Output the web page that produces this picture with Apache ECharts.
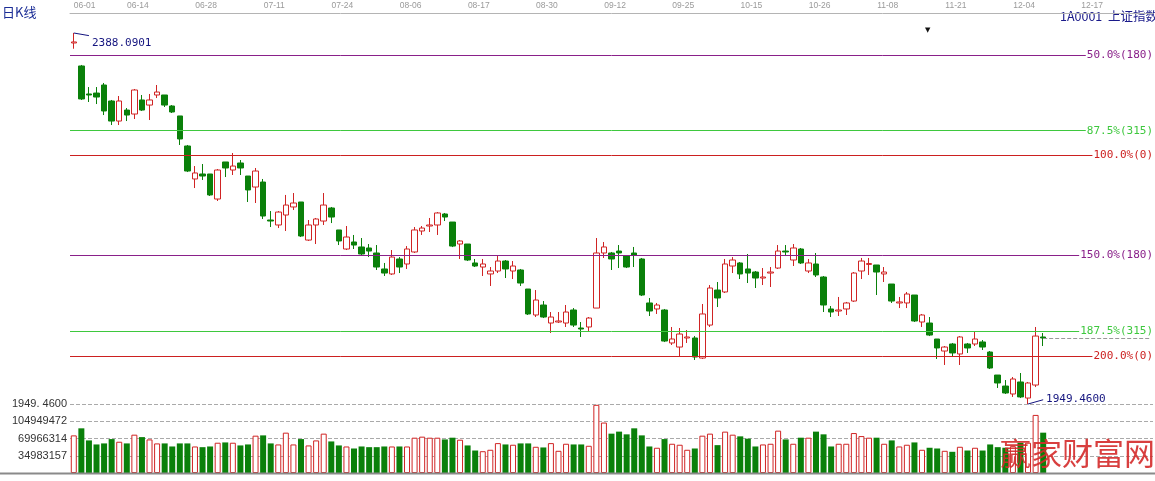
<!DOCTYPE html>
<html>
<head>
<meta charset="utf-8">
<script src="https://cdn.jsdelivr.net/npm/echarts@6/dist/echarts.min.js"></script>
<style>
html,body{margin:0;padding:0;background:#fff;}
#chart{width:1155px;height:481px;}
</style>
</head>
<body>
<div id="chart"></div>
<script>
// ---- data ----
const dates = ['06-01','06-04','06-05','06-06','06-07','06-08','06-11','06-12','06-13','06-14','06-15','06-18','06-19','06-20','06-21','06-25','06-26','06-27','06-28','06-29',
'07-02','07-03','07-04','07-05','07-06','07-09','07-10','07-11','07-12','07-13','07-16','07-17','07-18','07-19','07-20','07-23','07-24','07-25','07-26','07-27','07-30','07-31',
'08-01','08-02','08-03','08-06','08-07','08-08','08-09','08-10','08-13','08-14','08-15','08-16','08-17','08-20','08-21','08-22','08-23','08-24','08-27','08-28','08-29','08-30','08-31',
'09-03','09-04','09-05','09-06','09-07','09-10','09-11','09-12','09-13','09-14','09-17','09-18','09-19','09-20','09-21','09-24','09-25','09-26','09-27','09-28',
'10-08','10-09','10-10','10-11','10-12','10-15','10-16','10-17','10-18','10-19','10-22','10-23','10-24','10-25','10-26','10-29','10-30','10-31',
'11-01','11-02','11-05','11-06','11-07','11-08','11-09','11-12','11-13','11-14','11-15','11-16','11-19','11-20','11-21','11-22','11-23','11-26','11-27','11-28','11-29','11-30',
'12-03','12-04','12-05','12-06','12-07','12-10','12-11','12-12','12-13','12-14','12-17','12-18','12-19','12-20','12-21','12-24','12-25','12-26'];

const opens = [2376.3,2349.1,2316.0,2317.1,2326.6,2307.7,2284.0,2297.0,2292.3,2308.9,
2302.9,2314.8,2314.8,2301.8,2290.0,2254.5,2215.5,2221.4,2221.4,2191.8,
2235.6,2226.1,2234.4,2219.0,2206.0,2211.9,2167.0,2161.1,2172.9,2182.4,
2188.3,2143.3,2161.1,2165.8,2181.2,2155.2,2132.7,2141.0,2135.1,2133.9,
2128.0,2109.1,2103.2,2120.9,2115.0,2129.2,2154.0,2159.9,2161.1,2174.1,
2164.6,2138.6,2138.6,2116.2,2111.4,2103.2,2106.7,2118.5,2106.7,2107.9,
2085.4,2054.7,2066.5,2045.2,2046.4,2045.2,2060.6,2039.3,2040.5,2062.9,
2128.0,2128.0,2130.3,2124.4,2128.0,2120.9,2068.9,2061.8,2060.6,2021.6,
2016.8,2027.5,2027.5,2003.8,2042.8,2084.2,2081.9,2112.6,2116.2,2109.1,
2105.5,2098.4,2104.3,2110.2,2130.3,2119.7,2132.7,2106.7,2115.0,2099.6,
2061.8,2059.4,2061.8,2071.2,2106.7,2114.5,2113.8,2103.2,2091.3,2068.9,
2068.9,2078.3,2046.4,2045.2,2026.3,2012.1,2020.4,2008.6,2020.4,2020.4,
2022.8,2010.9,1983.7,1970.7,1961.3,1975.5,1956.5,1971.9,2028.7];

const closes = [2377.5,2310.1,2314.8,2312.4,2295.9,2284.0,2307.7,2291.1,2320.7,2297.0,
2308.9,2318.3,2302.9,2294.7,2262.8,2224.9,2222.6,2219.0,2196.6,2226.1,
2228.5,2230.8,2228.5,2202.5,2224.9,2171.7,2165.8,2176.4,2184.7,2187.1,
2148.1,2161.1,2168.2,2184.7,2170.5,2142.2,2146.9,2137.4,2126.8,2130.3,
2111.4,2104.3,2123.2,2111.4,2132.7,2155.2,2157.5,2161.1,2175.3,2170.5,
2136.2,2142.2,2119.7,2112.6,2115.0,2106.7,2118.5,2109.1,2112.6,2092.5,
2055.9,2072.4,2052.3,2052.3,2047.6,2058.2,2042.8,2038.1,2051.1,2128.0,
2135.1,2120.9,2128.0,2111.4,2125.6,2078.3,2059.4,2066.5,2023.9,2026.3,
2032.2,2028.7,2005.0,2055.9,2086.6,2074.8,2115.0,2119.7,2103.2,2104.3,
2098.4,2099.6,2105.5,2130.3,2129.2,2133.9,2116.2,2116.2,2102.0,2066.5,
2058.2,2060.6,2068.9,2104.3,2118.5,2115.5,2105.5,2105.5,2071.2,2070.1,
2079.5,2047.6,2054.7,2031.0,2015.7,2016.8,2009.8,2028.7,2015.7,2026.3,
2016.8,1992.0,1974.3,1962.5,1979.0,1957.8,1974.3,2029.8,2027.5];

const lows = [2369.5,2308.9,2306.5,2304.1,2291.1,2279.3,2279.3,2284.0,2286.4,2295.9,
2285.2,2311.2,2300.6,2293.5,2255.7,2223.7,2204.8,2214.3,2195.4,2189.5,
2217.8,2220.2,2220.2,2188.3,2187.1,2168.2,2158.7,2157.5,2154.0,2178.8,
2146.9,2142.2,2138.6,2161.1,2163.4,2137.4,2131.5,2132.7,2125.6,2123.2,
2107.9,2100.8,2102.0,2104.3,2109.1,2128.0,2149.3,2152.8,2149.3,2165.8,
2135.0,2120.9,2118.5,2111.4,2100.8,2089.0,2104.3,2098.4,2097.2,2089.0,
2054.7,2052.3,2051.1,2033.4,2045.2,2040.5,2040.5,2028.7,2035.7,2062.9,
2122.1,2107.9,2110.2,2110.2,2111.4,2077.1,2053.5,2055.9,2022.7,2019.2,
2006.2,2021.6,2001.5,2002.7,2040.5,2064.1,2080.7,2104.3,2097.2,2092.5,
2086.6,2090.1,2087.8,2109.1,2124.4,2112.6,2115.0,2104.3,2099.6,2058.2,
2052.3,2053.5,2054.7,2070.1,2097.2,2102.0,2078.3,2093.7,2068.9,2062.9,
2062.9,2046.4,2040.5,2029.8,2002.7,1995.6,2005.0,1995.6,2009.8,2018.0,
2013.3,1990.8,1968.4,1961.3,1957.8,1956.5,1949.46,1969.5,2018.0];

const highs = [2388.09,2350.3,2324.2,2324.2,2329.0,2308.9,2313.6,2299.4,2321.9,2314.8,
2316.0,2326.6,2314.8,2302.9,2290.0,2255.7,2230.8,2233.2,2221.4,2227.3,
2235.6,2246.2,2237.9,2219.0,2228.5,2215.5,2177.6,2177.6,2196.6,2198.9,
2188.3,2167.0,2169.4,2198.9,2182.4,2155.2,2159.9,2149.3,2145.7,2138.6,
2137.4,2116.2,2131.5,2123.2,2136.2,2158.7,2159.9,2169.4,2176.4,2175.3,
2164.6,2143.3,2138.6,2120.9,2120.9,2111.4,2124.4,2119.7,2118.5,2109.1,
2085.4,2084.2,2071.2,2058.2,2058.2,2066.5,2062.9,2046.4,2052.3,2145.7,
2141.0,2129.2,2137.4,2125.6,2135.1,2122.1,2074.8,2068.9,2061.8,2040.5,
2039.3,2036.9,2029.8,2067.7,2090.1,2093.7,2120.9,2123.2,2117.3,2126.8,
2106.7,2110.2,2111.4,2137.4,2137.4,2138.6,2133.9,2120.9,2128.0,2100.8,
2065.3,2076.0,2070.1,2105.5,2122.1,2122.1,2113.8,2111.4,2091.3,2076.0,
2081.9,2078.3,2055.9,2052.3,2026.3,2018.0,2021.6,2029.8,2021.6,2034.6,
2025.1,2012.1,1983.7,1977.8,1981.4,1986.1,1975.5,2040.5,2033.4];

const volumes = [76300000,90600000,66100000,57900000,60000000,68800000,63400000,60000000,77700000,72800000,
68100000,60000000,60000000,53800000,60000000,60000000,53800000,52400000,53800000,61400000,
62000000,61400000,55900000,57900000,75700000,76300000,60000000,57900000,81800000,57900000,
68800000,55900000,66100000,79800000,64000000,55900000,53800000,49700000,53800000,52400000,
52400000,53800000,53800000,53800000,53800000,71600000,73700000,71600000,71600000,68100000,
71600000,67500000,55900000,45600000,44200000,47100000,60600000,57900000,57300000,60000000,
60000000,53200000,51800000,60600000,45000000,59300000,57900000,57900000,55200000,138300000,
102300000,79800000,83900000,78400000,90600000,76300000,53800000,51200000,68800000,59300000,
57300000,47100000,49700000,75700000,79800000,56500000,83900000,77700000,74300000,69600000,
53800000,57900000,59300000,85900000,68100000,59300000,71600000,71600000,83900000,78400000,
53800000,59300000,59300000,81000000,74900000,71600000,71600000,59300000,66100000,53800000,
57300000,62000000,47100000,51200000,49700000,45000000,43000000,53200000,45600000,51200000,
45600000,57900000,52400000,51200000,54400000,61400000,61400000,117800000,81800000];

const fibLevels = [2362.1, 2272.6, 2243.8, 2125.3, 2035.8, 2005.6];
const fibLabels = ['50.0%(180)', '87.5%(315)', '100.0%(0)', '150.0%(180)', '187.5%(315)', '200.0%(0)'];
const highValue = 2388.09;
const highText = '2388.0901';
const lowValue = 1949.46;
const lowText = '1949.4600';
const lowAxisText = '1949. 4600';
const volTickStep = 34983157;
const volTickLabels = ['34983157', '69966314', '104949472'];

// ---- styles ----
const RED = '#d02424';
const GREEN = '#0a800a';
const NAVY = '#14147f';
const fibColors = ['#8a208a', '#3ec83e', '#cc2020', '#8a208a', '#3ec83e', '#cc2020'];
const MONO = '"DejaVu Sans Mono", monospace';

const candleData = opens.map((o, i) => [o, closes[i], lows[i], highs[i]]);
const volData = volumes.map((v, i) => {
  const up = closes[i] >= opens[i];
  return {
    value: v,
    itemStyle: up ? {color: '#fff', borderColor: RED, borderWidth: 1} : {color: GREEN, borderColor: GREEN, borderWidth: 0}
  };
});
const lastIdx = closes.length - 1;

const markLines = [];
fibLevels.forEach((v, i) => {
  markLines.push({
    yAxis: v,
    lineStyle: {color: fibColors[i], width: 1, type: 'solid'},
    label: {
      show: true, position: 'insideEnd', distance: 0, formatter: fibLabels[i],
      color: fibColors[i], fontFamily: MONO, fontSize: 11,
      backgroundColor: '#fff', padding: [1, 0, 1, 1]
    }
  });
});
markLines.push({
  yAxis: lowValue,
  lineStyle: {color: '#aaa', width: 1, type: [4, 2]},
  label: {show: true, position: 'start', distance: 3, formatter: lowAxisText, color: '#333',
    fontFamily: '"Liberation Sans", Arial, sans-serif', fontSize: 11}
});
markLines.push([
  {coord: [0, highValue], lineStyle: {color: NAVY, width: 1, type: 'solid'},
   label: {show: true, position: 'end', distance: 3, formatter: '\n' + highText, color: NAVY,
           fontFamily: MONO, fontSize: 11, lineHeight: 14}},
  {coord: [2, 2385.0]}
]);
markLines.push([
  {coord: [126, lowValue], lineStyle: {color: NAVY, width: 1, type: 'solid'},
   label: {show: true, position: 'end', distance: 3, formatter: lowText, color: NAVY,
           fontFamily: MONO, fontSize: 11}},
  {coord: [128, 1954.5]}
]);
markLines.push([
  {coord: [lastIdx, closes[lastIdx]], lineStyle: {color: '#999', width: 1, type: [4, 2]}, label: {show: false}},
  {coord: [dates.length - 1, closes[lastIdx]]}
]);

const chart = echarts.init(document.getElementById('chart'), null, {renderer: 'canvas'});
chart.setOption({
  animation: false,
  backgroundColor: '#fff',
  textStyle: {fontFamily: '"Liberation Sans", Arial, sans-serif'},
  grid: [
    {left: 70, right: 2, top: 13, height: 391, outerBoundsMode: 'none', containLabel: false},
    {left: 70, right: 2, top: 404, bottom: 8, outerBoundsMode: 'none', containLabel: false}
  ],
  xAxis: [
    {
      type: 'category', gridIndex: 0, data: dates, position: 'top', boundaryGap: true,
      axisLine: {show: true, lineStyle: {color: '#b4b4b4', width: 1}},
      axisTick: {show: false},
      splitLine: {show: false},
      axisLabel: {interval: 8, color: '#9a9a9a', fontSize: 8.5, margin: 3, padding: [0, 8, 0, 0],
                  alignMinLabel: 'left', hideOverlap: false}
    },
    {
      type: 'category', gridIndex: 1, data: dates, boundaryGap: true,
      axisLine: {show: false}, axisTick: {show: false}, axisLabel: {show: false}, splitLine: {show: false}
    }
  ],
  yAxis: [
    {
      type: 'value', gridIndex: 0, min: 1949.46, max: 2411.74, scale: true,
      axisLine: {show: false}, axisTick: {show: false}, axisLabel: {show: false}, splitLine: {show: false}
    },
    {
      type: 'value', gridIndex: 1, min: 0, max: volTickStep * 4, interval: volTickStep,
      axisLine: {show: false}, axisTick: {show: false},
      axisLabel: {
        show: true, margin: 3, color: '#333', fontSize: 11,
        formatter: function (v) {
          const k = Math.round(v / volTickStep);
          return (k >= 1 && k <= 3) ? volTickLabels[k - 1] : '';
        }
      },
      splitLine: {show: true, lineStyle: {color: '#aaa', width: 1, type: [4, 2]}}
    }
  ],
  series: [
    {
      type: 'candlestick', xAxisIndex: 0, yAxisIndex: 0, data: candleData, barWidth: 6,
      itemStyle: {color: '#fff', color0: GREEN, borderColor: RED, borderColor0: GREEN, borderWidth: 1, borderColorDoji: RED},
      markLine: {silent: true, symbol: ['none', 'none'], animation: false, precision: 4, data: markLines}
    },
    {
      type: 'bar', xAxisIndex: 1, yAxisIndex: 1, data: volData, barWidth: 6, barGap: '0%'
    }
  ],
  graphic: [
    {type: 'text', left: 2, top: 6, style: {text: '日K线', fill: '#1b2d96', font: '13px "Noto Sans CJK SC"'}},
    {type: 'text', left: 1060, top: 10, style: {text: '1A0001  上证指数', fill: '#1a1a8a', font: '12.5px "Noto Sans CJK SC"'}},
    {type: 'text', left: 925, top: 27, style: {text: '▼', fill: '#111', font: '7px "DejaVu Sans"'}},
    {type: 'line', shape: {x1: 0, y1: 473.5, x2: 1155, y2: 473.5}, style: {stroke: '#8a8a8a', lineWidth: 2}, z: 50},
    {type: 'text', left: 1000, top: 438, z: 100, style: {text: '赢家财富网', fill: '#d42a2a', opacity: 0.9, font: '31px "Noto Sans CJK SC"'}}
  ]
});
</script>
</body>
</html>
